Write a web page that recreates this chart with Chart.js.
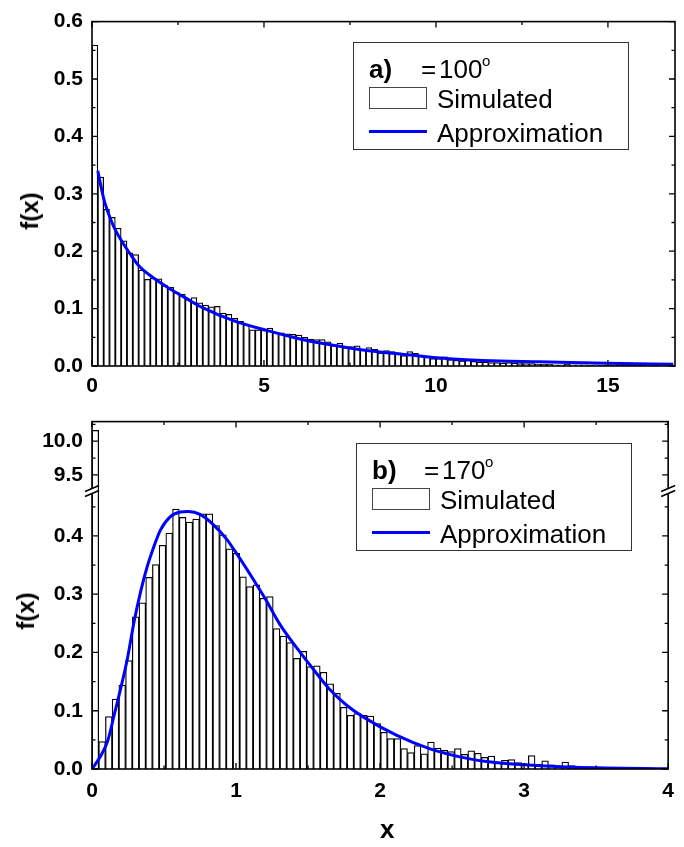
<!DOCTYPE html>
<html>
<head>
<meta charset="utf-8">
<script src="https://cdn.jsdelivr.net/npm/chart.js@4.4.1/dist/chart.umd.min.js"></script>
<style>
  body { margin: 0; background: #fff; }
  #wrap { position: relative; width: 684px; height: 847px; overflow: hidden;
          font-family: "Liberation Sans", Arial, sans-serif; color: #000; background: #fff; }
  #wrap canvas { position: absolute; left: 0; }
  .abs { position: absolute; white-space: nowrap; line-height: 1; }
</style>
</head>
<body>
<div id="wrap">
  <canvas id="topChart" width="684" height="410" style="top:0"></canvas>
  <canvas id="botChart" width="684" height="447" style="top:400px"></canvas>
</div>
<script>
// ---- panel a) theta = 100 deg ----
const TOP_BIN = 0.1695;           // histogram bin width
const TOP_X_MAX = 16.95;
const topHist = [
  0.559, 0.329, 0.273, 0.259, 0.240, 0.218, 0.197, 0.194, 0.167, 0.151,
  0.153, 0.152, 0.140, 0.137, 0.128, 0.125, 0.116, 0.119, 0.110, 0.106,
  0.103, 0.104, 0.092, 0.090, 0.083, 0.078, 0.072, 0.063, 0.063, 0.062,
  0.066, 0.059, 0.058, 0.056, 0.055, 0.054, 0.050, 0.047, 0.046, 0.046,
  0.042, 0.036, 0.040, 0.032, 0.034, 0.035, 0.029, 0.032, 0.029, 0.023,
  0.027, 0.025, 0.023, 0.018, 0.025, 0.022, 0.019, 0.016, 0.013, 0.013,
  0.016, 0.011, 0.010, 0.009, 0.010, 0.008, 0.007, 0.007, 0.006, 0.006,
  0.005, 0.006, 0.005, 0.004, 0.004, 0.004, 0.003, 0.003, 0.003, 0.002,
  0.002, 0.003, 0.002, 0.002, 0.002, 0.001, 0.002, 0.001, 0.001, 0.001,
  0.001, 0.001, 0.001, 0.001, 0.001, 0.000, 0.001, 0.000, 0.000, 0.001
];
const topCurveX = [0.17, 0.25, 0.37, 0.6, 0.85, 1.1, 1.34, 1.82, 2.31, 2.79, 3.2, 4.11, 5.08,
  6.05, 7.01, 7.99, 8.95, 9.92, 10.89, 11.86, 13.0, 14.96, 16.9];
const topCurveY = [0.340, 0.316, 0.285, 0.247, 0.219, 0.196, 0.176, 0.152, 0.133, 0.116, 0.102, 0.079, 0.062,
  0.047, 0.036, 0.027, 0.021, 0.015, 0.011, 0.0086, 0.0074, 0.0046, 0.003];
const TOP_X_TICKS = [0, 5, 10, 15];
const TOP_X_MINOR = [2.5, 7.5, 12.5];
const TOP_Y_TICKS = [0, 0.1, 0.2, 0.3, 0.4, 0.5, 0.6];
const TOP_Y_MINOR = [0.05, 0.15, 0.25, 0.35, 0.45, 0.55];

// ---- panel b) theta = 170 deg (broken y axis) ----
const BOT_BIN = 0.0466;
const botHist = [
  10.16, 0.047, 0.090, 0.120, 0.144, 0.186, 0.261, 0.285, 0.329, 0.351,
  0.384, 0.405, 0.446, 0.432, 0.424, 0.429, 0.438, 0.438, 0.418, 0.402,
  0.378, 0.370, 0.330, 0.313, 0.316, 0.293, 0.296, 0.241, 0.228, 0.217,
  0.190, 0.202, 0.176, 0.177, 0.166, 0.146, 0.130, 0.106, 0.092, 0.095,
  0.092, 0.091, 0.078, 0.063, 0.052, 0.052, 0.035, 0.028, 0.040, 0.026,
  0.046, 0.036, 0.032, 0.030, 0.035, 0.025, 0.031, 0.027, 0.020, 0.022,
  0.012, 0.015, 0.016, 0.011, 0.009, 0.023, 0.008, 0.014, 0.007, 0.005,
  0.012, 0.006, 0.004, 0.003, 0.002, 0.001
];
const botCurveX = [0.0, 0.064, 0.11, 0.156, 0.201, 0.247, 0.293, 0.338, 0.384, 0.43, 0.475, 0.544,
  0.613, 0.67, 0.75, 0.84, 0.933, 1.025, 1.116, 1.208, 1.3, 1.427, 1.55, 1.656, 1.77, 1.885,
  2.113, 2.342, 2.57, 2.80, 3.03, 3.26, 3.5, 4.0];
const botCurveY = [0.0, 0.024, 0.049, 0.095, 0.140, 0.191, 0.254, 0.305, 0.348, 0.382, 0.410, 0.433,
  0.441, 0.442, 0.437, 0.420, 0.395, 0.362, 0.327, 0.290, 0.250, 0.206, 0.167, 0.135, 0.109, 0.089,
  0.058, 0.035, 0.020, 0.011, 0.007, 0.004, 0.002, 0.0005];
const LOW_MAX = 0.477, HIGH_MIN = 9.26, HIGH_MAX = 10.29;
const BOT_X_TICKS = [0, 1, 2, 3, 4];
const BOT_X_MINOR = [0.5, 1.5, 2.5, 3.5];
const BOT_Y_TICKS = [0, 0.1, 0.2, 0.3, 0.4];
const BOT_Y_MINOR = [0.05, 0.15, 0.25, 0.35, 0.45];
const BOT_Y2_TICKS = [9.5, 10.0];
const BOT_Y2_MINOR = [9.75, 10.25];

const BLUE = "#0000ff";
Chart.defaults.font.family = '"Liberation Sans", Arial, sans-serif';
const tickFont = { size: 21, weight: "bold" };

// inward ticks on all four sides, the frame, and the // axis break
const frameTicks = {
  id: "frameTicks",
  afterDatasetsDraw(chart, args, opts) {
    const ctx = chart.ctx, a = chart.chartArea;
    ctx.save();
    ctx.strokeStyle = "#000";
    ctx.lineWidth = 1.3;
    ctx.beginPath();
    opts.axes.forEach(ax => {
      const s = chart.scales[ax.id];
      [[ax.major, 6], [ax.minor, 3.5]].forEach(([vals, len]) => vals.forEach(v => {
        const p = s.getPixelForValue(v);
        if (s.isHorizontal()) {
          ctx.moveTo(p, a.bottom); ctx.lineTo(p, a.bottom - len);
          ctx.moveTo(p, a.top); ctx.lineTo(p, a.top + len);
        } else {
          if (p < s.top - 0.5 || p > s.bottom + 0.5) return;
          ctx.moveTo(a.left, p); ctx.lineTo(a.left + len, p);
          ctx.moveTo(a.right, p); ctx.lineTo(a.right - len, p);
        }
      }));
    });
    ctx.stroke();
    ctx.lineWidth = 1.6;
    ctx.strokeRect(a.left, a.top, a.right - a.left, a.bottom - a.top);
    if (opts.breakAt) {
      const yb = chart.scales[opts.breakAt].top;
      [a.left, a.right].forEach(x0 => {
        ctx.fillStyle = "#fff";
        ctx.fillRect(x0 - 2, yb - 2.5, 4, 5);
        ctx.beginPath();
        [-2.5, 2.5].forEach(d => { ctx.moveTo(x0 - 7, yb + d + 3); ctx.lineTo(x0 + 7, yb + d - 3); });
        ctx.stroke();
      });
    }
    ctx.restore();
  }
};

function xScale(max, ticks, height, pad) {
  return {
    type: "linear", min: 0, max: max, offset: false,
    grid: { display: false, drawTicks: false, offset: false }, border: { display: false },
    afterBuildTicks: s => { s.ticks = ticks.map(v => ({ value: v })); },
    afterFit: s => { s.height = height; },
    ticks: { padding: pad, font: tickFont, color: "#000", maxRotation: 0, autoSkip: false, callback: v => String(v) }
  };
}
function yScale(min, max, ticks, extra) {
  return Object.assign({
    type: "linear", position: "left", min: min, max: max,
    grid: { display: false, drawTicks: false }, border: { display: false },
    afterBuildTicks: s => { s.ticks = ticks.map(v => ({ value: v })); },
    afterFit: s => { s.width = 92; },
    ticks: { padding: 9, font: tickFont, color: "#000", autoSkip: false, callback: v => v.toFixed(1) }
  }, extra || {});
}
function points(xs, ys) { return xs.map((x, i) => ({ x: x, y: ys[i] })); }
function histPoints(vals, w) { return vals.map((v, i) => ({ x: (i + 0.5) * w, y: v })); }

const barStyle = {
  type: "bar", backgroundColor: "#fff", borderColor: "#000", borderWidth: 1.25,
  barPercentage: 1, categoryPercentage: 1, grouped: false, clip: 0, order: 1
};
const lineStyle = {
  type: "line", borderColor: BLUE, borderWidth: 3, pointRadius: 0,
  cubicInterpolationMode: "monotone", fill: false, order: 0
};

new Chart(document.getElementById("topChart"), {
  type: "bar",
  data: {
    datasets: [
      Object.assign({ label: "Simulated", data: histPoints(topHist, TOP_BIN) }, barStyle),
      Object.assign({ label: "Approximation", data: points(topCurveX, topCurveY) }, lineStyle)
    ]
  },
  options: {
    responsive: false, animation: false, events: [],
    layout: { padding: { top: 16, right: 9, left: 0, bottom: 0 } },
    plugins: {
      legend: { display: false }, tooltip: { enabled: false },
      frameTicks: { axes: [
        { id: "x", major: TOP_X_TICKS, minor: TOP_X_MINOR },
        { id: "y", major: TOP_Y_TICKS, minor: TOP_Y_MINOR }
      ] }
    },
    scales: {
      x: xScale(TOP_X_MAX, TOP_X_TICKS, 44, 8),
      y: yScale(0, 0.6, TOP_Y_TICKS)
    }
  },
  plugins: [frameTicks]
});

new Chart(document.getElementById("botChart"), {
  type: "bar",
  data: {
    datasets: [
      Object.assign({ label: "Simulated", data: histPoints(botHist, BOT_BIN), yAxisID: "y" }, barStyle),
      Object.assign({ label: "Simulated (upper)", yAxisID: "y2",
        data: histPoints(botHist, BOT_BIN).filter(p => p.y > LOW_MAX) }, barStyle),
      Object.assign({ label: "Approximation", data: points(botCurveX, botCurveY), yAxisID: "y" }, lineStyle)
    ]
  },
  options: {
    responsive: false, animation: false, events: [],
    layout: { padding: { top: 19, right: 9, left: 0, bottom: 0 } },
    plugins: {
      legend: { display: false }, tooltip: { enabled: false },
      frameTicks: { breakAt: "y", axes: [
        { id: "x", major: BOT_X_TICKS, minor: BOT_X_MINOR },
        { id: "y", major: BOT_Y_TICKS, minor: BOT_Y_MINOR },
        { id: "y2", major: BOT_Y2_TICKS, minor: BOT_Y2_MINOR }
      ] }
    },
    scales: {
      x: xScale(4, BOT_X_TICKS, 78, 10),
      y: yScale(0, LOW_MAX, BOT_Y_TICKS, { stack: "fx", stackWeight: 4 }),
      y2: yScale(HIGH_MIN, HIGH_MAX, BOT_Y2_TICKS, { stack: "fx", stackWeight: 1 })
    }
  },
  plugins: [frameTicks]
});

// ---- text: axis titles and legends ----
const wrap = document.getElementById("wrap");
function text(str, x, base, size, weight) {
  const d = document.createElement("div");
  d.className = "abs";
  d.textContent = str;
  d.style.left = x + "px";
  d.style.top = (base - 0.847 * size) + "px";
  d.style.fontSize = size + "px";
  d.style.fontWeight = weight || "normal";
  wrap.appendChild(d);
  return d;
}
function rotated(str, cx, cy, size) {
  const d = document.createElement("div");
  d.className = "abs";
  d.textContent = str;
  d.style.left = cx + "px";
  d.style.top = cy + "px";
  d.style.fontSize = size + "px";
  d.style.fontWeight = "bold";
  d.style.transform = "translate(-50%,-50%) rotate(-90deg)";
  wrap.appendChild(d);
}
function rect(x, y, w, h, css) {
  const d = document.createElement("div");
  d.style.position = "absolute";
  d.style.left = x + "px"; d.style.top = y + "px";
  d.style.width = w + "px"; d.style.height = h + "px";
  Object.assign(d.style, css || {});
  wrap.appendChild(d);
}
function legend(bx, by, tag, angle) {
  rect(bx, by, 276, 108, { border: "1px solid #333", boxSizing: "border-box" });
  text(tag, bx + 16, by + 36, 26, "bold");
  text("=", bx + 68, by + 36, 26);
  text(angle, bx + 86, by + 36, 26);
  text("o", bx + 129, by + 24, 15);
  rect(bx + 16, by + 45, 58, 22, { border: "1px solid #444", boxSizing: "border-box", background: "#fff" });
  text("Simulated", bx + 84, by + 66, 26);
  rect(bx + 16, by + 88, 58, 3, { background: BLUE });
  text("Approximation", bx + 84, by + 100, 26);
}

rotated("f(x)", 30, 211, 24);
rotated("f(x)", 26, 611, 24);
text("x", 380, 838, 26, "bold");
legend(353, 42, "a)", "100");
legend(356, 443, "b)", "170");
</script>
</body>
</html>
